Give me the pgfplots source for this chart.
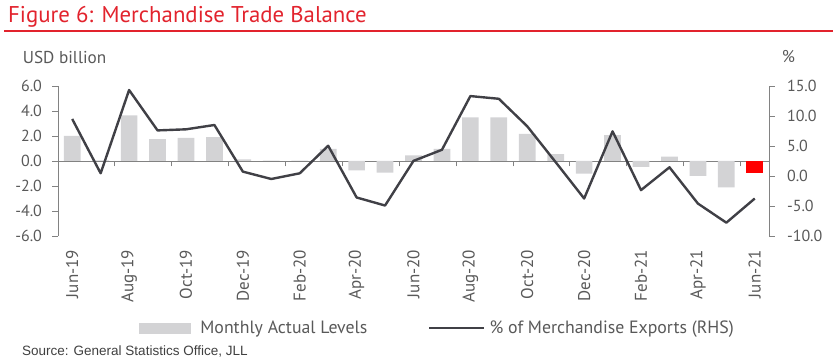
\documentclass[border=0pt]{standalone}
\usepackage{pgfplots}
\usepackage{pgfplotstable}
\pgfplotsset{compat=1.18}
\usepackage{fontspec}
\setmainfont{PT Sans}
\newfontfamily\srcfont{Liberation Sans}
\definecolor{jllred}{RGB}{226,35,45}
\definecolor{txtgray}{RGB}{89,89,89}
\definecolor{axgray}{RGB}{130,130,130}
\definecolor{bargray}{RGB}{211,211,213}
\definecolor{linegray}{RGB}{64,64,70}
\definecolor{brightred}{RGB}{255,0,0}

\pgfplotstableread{
x bal
0 2.0
1 0.05
2 3.65
3 1.74
4 1.85
5 1.9
6 0.13
7 0.02
8 0.03
9 0.96
10 -0.75
11 -0.94
12 0.45
13 0.96
14 3.48
15 3.48
16 2.17
17 0.54
18 -1.02
19 2.06
20 -0.48
21 0.35
22 -1.2
23 -2.12
}\baltable

\pgfplotstableread{
x pct
0 9.5
1 0.45
2 14.33
3 7.6
4 7.78
5 8.5
6 0.73
7 -0.5
8 0.45
9 5.04
10 -3.58
11 -4.92
12 2.52
13 4.37
14 13.32
15 12.87
16 8.28
17 2.3
18 -3.75
19 7.44
20 -2.35
21 1.45
22 -4.59
23 -7.78
24 -3.75
}\pcttable

\begin{document}
\begin{tikzpicture}
\useasboundingbox (0pt,0pt) rectangle (833pt,359pt);
\node[anchor=base west, inner sep=0pt, text=jllred, font=\fontsize{22.8}{22.8}\selectfont] at (8pt,336.3pt) {Figure 6: Merchandise Trade Balance};
\draw[jllred, line width=1.5pt] (4pt,328pt) -- (833pt,328pt);
\node[anchor=base west, inner sep=0pt, text=txtgray, font=\fontsize{17.2}{17.2}\selectfont] at (22.7pt,295pt) {USD billion};
\node[anchor=base west, inner sep=0pt, text=txtgray, font=\fontsize{17}{17}\selectfont] at (781.7pt,296pt) {\%};
\node[anchor=base west, inner sep=0pt, text=black!75, font=\srcfont\fontsize{13.5}{13.5}\selectfont] at (22pt,4pt) {Source: General Statistics Office, JLL};

\begin{axis}[
  at={(58pt,123pt)}, anchor=south west,
  width=711pt, height=150pt, scale only axis,
  xmin=-0.5, xmax=24.5, ymin=-6, ymax=6,
  axis y line*=left, axis x line=middle,
  axis line style={axgray, line width=0.9pt, -},
  xtick={1.5,3.5,...,23.5}, xticklabels={},
  ytick={-6,-4,...,6},
  tick style={axgray, line width=0.9pt},
  major tick length=5.5pt, tick align=outside,
  yticklabel style={font=\fontsize{16}{16}\selectfont, text=txtgray, xshift=-7pt,
    /pgf/number format/.cd, fixed, fixed zerofill, precision=1, assume math mode=true},
  clip=false,
]
\addplot[ybar, bar width=16.7pt, bar shift=0pt, fill=bargray, draw=none] table[x=x, y=bal] {\baltable};
\addplot[ybar, bar width=16.7pt, bar shift=0pt, fill=brightred, draw=none] coordinates {(24,-1.0)};
\end{axis}

\begin{axis}[
  at={(58pt,123pt)}, anchor=south west,
  width=711pt, height=150pt, scale only axis,
  xmin=-0.5, xmax=24.5, ymin=-10, ymax=15,
  axis y line*=right, axis x line*=bottom,
  x axis line style={draw=none},
  y axis line style={axgray, line width=0.9pt, -},
  xtick={0,2,...,24},
  xticklabels={Jun-19,Aug-19,Oct-19,Dec-19,Feb-20,Apr-20,Jun-20,Aug-20,Oct-20,Dec-20,Feb-21,Apr-21,Jun-21},
  xtick style={draw=none},
  ytick={-10,-5,...,15},
  ytick style={axgray, line width=0.9pt},
  major tick length=5.5pt, tick align=outside,
  xticklabel style={font=\fontsize{17}{17}\selectfont, text=txtgray, rotate=90, anchor=east, xshift=-5pt},
  yticklabel style={font=\fontsize{16}{16}\selectfont, text=txtgray, xshift=9pt,
    /pgf/number format/.cd, fixed, fixed zerofill, precision=1, assume math mode=true},
  legend style={at={(0.1139,-0.613)}, anchor=west, draw=none, fill=none,
    inner sep=0pt, outer sep=0pt,
    font=\fontsize{17.8}{17.8}\selectfont, text=txtgray,
    nodes={inner sep=0pt},
    /tikz/column 1/.style={column sep=10pt},
    /tikz/column 2/.style={column sep=61pt},
    /tikz/column 3/.style={column sep=4pt}},
  legend columns=4,
  clip=false,
]
\addlegendimage{legend image code/.code={\fill[bargray] (0pt,-5pt) rectangle (51pt,5pt);}}
\addlegendentry{Monthly Actual Levels}
\addlegendimage{legend image code/.code={\draw[linegray, line width=2.4pt] (0pt,0pt) -- (55pt,0pt);}}
\addlegendentry{\% of Merchandise Exports (RHS)}
\addplot[linegray, line width=2.4pt, line join=round, forget plot] table[x=x, y=pct] {\pcttable};
\end{axis}
\end{tikzpicture}
\end{document}
